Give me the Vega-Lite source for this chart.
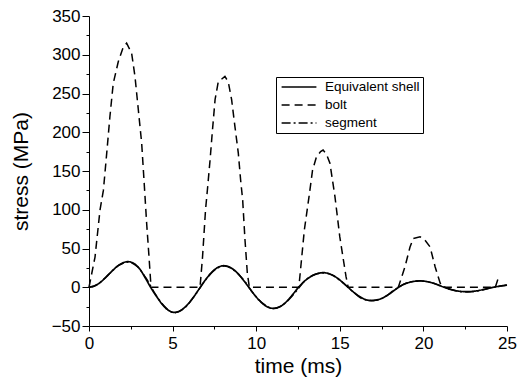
{
  "$schema": "https://vega.github.io/schema/vega-lite/v6.json",
  "width": 418,
  "height": 310,
  "autosize": "none",
  "padding": {"left": 89, "top": 16, "right": 13, "bottom": 51},
  "background": "white",
  "datasets": {
    "shell": [
      {"t":0,"v":0},{"t":0.294,"v":1.26},{"t":0.588,"v":4.83},{"t":0.881,"v":10.19},{"t":1.175,"v":16.5},{"t":1.469,"v":22.81},{"t":1.763,"v":28.17},{"t":2.056,"v":31.74},{"t":2.35,"v":33},
      {"t":2.694,"v":30.51},{"t":3.038,"v":23.43},{"t":3.381,"v":11.5},{"t":3.725,"v":-1.5},{"t":4.069,"v":-12.8},{"t":4.413,"v":-22.83},{"t":4.756,"v":-29.91},{"t":5.1,"v":-32.4},
      {"t":5.471,"v":-30.11},{"t":5.843,"v":-23.59},{"t":6.214,"v":-13.82},{"t":6.585,"v":-2.3},{"t":6.956,"v":9.22},{"t":7.328,"v":18.99},{"t":7.699,"v":25.51},{"t":8.07,"v":27.8},
      {"t":8.439,"v":25.7},{"t":8.808,"v":19.75},{"t":9.176,"v":10.82},{"t":9.545,"v":0.3},{"t":9.914,"v":-10.22},{"t":10.283,"v":-19.15},{"t":10.651,"v":-25.1},{"t":11.02,"v":-27.2},
      {"t":11.394,"v":-25.45},{"t":11.768,"v":-19.5},{"t":12.141,"v":-10.5},{"t":12.515,"v":-0.5},{"t":12.889,"v":7.8},{"t":13.263,"v":13.8},{"t":13.636,"v":17.4},{"t":14.01,"v":18.8},
      {"t":14.371,"v":17.42},{"t":14.733,"v":13.51},{"t":15.094,"v":7.66},{"t":15.455,"v":0.75},{"t":15.816,"v":-6.16},{"t":16.178,"v":-12.01},{"t":16.539,"v":-15.92},{"t":16.9,"v":-17.3},
      {"t":17.263,"v":-16.2},{"t":17.625,"v":-13.2},{"t":17.988,"v":-8.3},{"t":18.35,"v":-2.6},{"t":18.713,"v":2.6},{"t":19.075,"v":5.8},{"t":19.438,"v":7.6},{"t":19.8,"v":8.1},
      {"t":20.15,"v":7.5},{"t":20.5,"v":5.8},{"t":20.85,"v":3.2},{"t":21.2,"v":0.3},{"t":21.55,"v":-2.4},{"t":21.9,"v":-4.3},{"t":22.25,"v":-5.4},{"t":22.6,"v":-5.7},
      {"t":22.95,"v":-5.3},{"t":23.3,"v":-4.2},{"t":23.65,"v":-2.6},{"t":24.0,"v":-0.9},{"t":24.35,"v":0.6},{"t":24.7,"v":1.9},{"t":25.0,"v":2.9}
    ],
    "segment": [
      {"t":0,"v":0},{"t":0.6,"v":5},{"t":1.2,"v":17},{"t":1.8,"v":28.5},{"t":2.35,"v":32.5},{"t":2.9,"v":26.5},{"t":3.45,"v":10.5},{"t":4.0,"v":-10},{"t":4.55,"v":-25.5},{"t":5.1,"v":-33},
      {"t":5.7,"v":-27},{"t":6.3,"v":-11.5},{"t":6.9,"v":7.5},{"t":7.5,"v":22},{"t":8.1,"v":27.5},{"t":8.7,"v":21.5},{"t":9.3,"v":8},{"t":9.9,"v":-10},{"t":10.5,"v":-22.5},{"t":11.05,"v":-27.5},
      {"t":11.7,"v":-21},{"t":12.3,"v":-7.5},{"t":12.9,"v":8},{"t":13.5,"v":16.5},{"t":14.0,"v":18.5},{"t":14.6,"v":15},{"t":15.2,"v":5.5},{"t":15.8,"v":-6},{"t":16.35,"v":-14.8},{"t":16.9,"v":-17},
      {"t":17.6,"v":-13.5},{"t":18.3,"v":-3},{"t":19.0,"v":5.5},{"t":19.8,"v":8.3},{"t":20.5,"v":6},{"t":21.2,"v":0.5},{"t":21.9,"v":-4.2},{"t":22.6,"v":-6},{"t":23.3,"v":-4.5},{"t":24.0,"v":-1},{"t":24.6,"v":1.5},{"t":25,"v":2.6}
    ],
    "bolt": [
      {"t":0,"v":0},{"t":0.36,"v":39},{"t":0.66,"v":100},{"t":0.86,"v":125},{"t":1.06,"v":173},{"t":1.25,"v":220},{"t":1.45,"v":263},{"t":1.75,"v":291},{"t":2.05,"v":310},{"t":2.25,"v":315},
      {"t":2.55,"v":302},{"t":2.75,"v":272},{"t":2.95,"v":229},{"t":3.15,"v":186},{"t":3.29,"v":138},{"t":3.45,"v":82},{"t":3.59,"v":39},{"t":3.71,"v":0},
      {"t":6.64,"v":0},{"t":6.79,"v":39},{"t":6.97,"v":100},{"t":7.1,"v":130},{"t":7.24,"v":164},{"t":7.37,"v":199},{"t":7.54,"v":242},{"t":7.73,"v":265},{"t":8.13,"v":272},
      {"t":8.33,"v":265},{"t":8.53,"v":242},{"t":8.73,"v":207},{"t":8.93,"v":173},{"t":9.07,"v":138},{"t":9.19,"v":113},{"t":9.33,"v":61},{"t":9.47,"v":18},{"t":9.59,"v":0},
      {"t":12.55,"v":0},{"t":12.88,"v":74},{"t":13.16,"v":117},{"t":13.37,"v":151},{"t":13.6,"v":168},{"t":13.85,"v":175},{"t":14.0,"v":177},{"t":14.2,"v":172},{"t":14.41,"v":160},
      {"t":14.71,"v":117},{"t":15.0,"v":65},{"t":15.37,"v":14},{"t":15.5,"v":0},
      {"t":18.5,"v":0},{"t":18.9,"v":26.5},{"t":19.2,"v":52},{"t":19.4,"v":63},{"t":19.8,"v":65},{"t":20.05,"v":62},{"t":20.4,"v":52},{"t":20.7,"v":26.5},{"t":21.0,"v":5.5},{"t":21.15,"v":0},
      {"t":24.3,"v":0},{"t":24.45,"v":10}
    ]
  },
  "encoding": {
    "x": {
      "field": "t", "type": "quantitative",
      "scale": {"domain": [0, 25], "nice": false, "zero": false},
      "axis": {
        "title": "time (ms)",
        "values": [0,2.5,5,7.5,10,12.5,15,17.5,20,22.5,25],
        "labelExpr": "datum.value % 5 === 0 ? datum.label : ''",
        "tickSize": {"condition": {"test": "datum.value % 5 === 0", "value": 5}, "value": 3},
        "labelPadding": 4,
        "titlePadding": 4
      }
    },
    "y": {
      "field": "v", "type": "quantitative",
      "scale": {"domain": [-50, 350], "nice": false, "zero": false},
      "axis": {
        "title": "stress (MPa)",
        "values": [-50,-25,0,25,50,75,100,125,150,175,200,225,250,275,300,325,350],
        "labelExpr": "datum.value % 50 === 0 ? datum.label : ''",
        "tickSize": {"condition": {"test": "datum.value % 50 === 0", "value": 7}, "value": 3},
        "labelPadding": 2,
        "titlePadding": 20
      }
    },
    "strokeDash": {
      "datum": "Equivalent shell",
      "type": "nominal",
      "scale": {
        "domain": ["Equivalent shell", "bolt", "segment"],
        "range": [[1, 0], [8, 5], [9, 3, 2, 3]]
      },
      "legend": {"title": null}
    }
  },
  "layer": [
    {
      "data": {"name": "bolt"},
      "mark": {"type": "line", "color": "black", "strokeWidth": 1.5, "interpolate": "linear"},
      "encoding": {"strokeDash": {"datum": "bolt", "type": "nominal"}}
    },
    {
      "data": {"name": "segment"},
      "mark": {"type": "line", "color": "black", "strokeWidth": 1.5, "interpolate": "monotone"},
      "encoding": {"strokeDash": {"datum": "segment", "type": "nominal"}}
    },
    {
      "data": {"name": "shell"},
      "mark": {"type": "line", "color": "black", "strokeWidth": 1.7, "interpolate": "monotone"},
      "encoding": {"strokeDash": {"datum": "Equivalent shell", "type": "nominal"}}
    }
  ],
  "config": {
    "view": {"stroke": null},
    "font": "Liberation Sans",
    "axis": {
      "grid": false,
      "domainColor": "black",
      "domainWidth": 1,
      "tickColor": "black",
      "tickWidth": 1,
      "labelColor": "black",
      "labelFont": "Liberation Sans",
      "labelFontSize": 17,
      "labelFlush": false,
      "labelOverlap": false,
      "titleColor": "black",
      "titleFont": "Liberation Sans",
      "titleFontSize": 21,
      "titleFontWeight": "normal"
    },
    "legend": {
      "orient": "none",
      "legendX": 187,
      "legendY": 61,
      "padding": 3,
      "strokeColor": "black",
      "fillColor": "white",
      "symbolType": "M-2.9,0H2.9",
      "symbolSize": 144,
      "symbolStrokeWidth": 1.5,
      "symbolStrokeColor": "black",
      "symbolOffset": 13,
      "labelOffset": 19,
      "labelFont": "Liberation Sans",
      "labelFontSize": 13.5,
      "labelColor": "black",
      "rowPadding": 4
    }
  }
}
